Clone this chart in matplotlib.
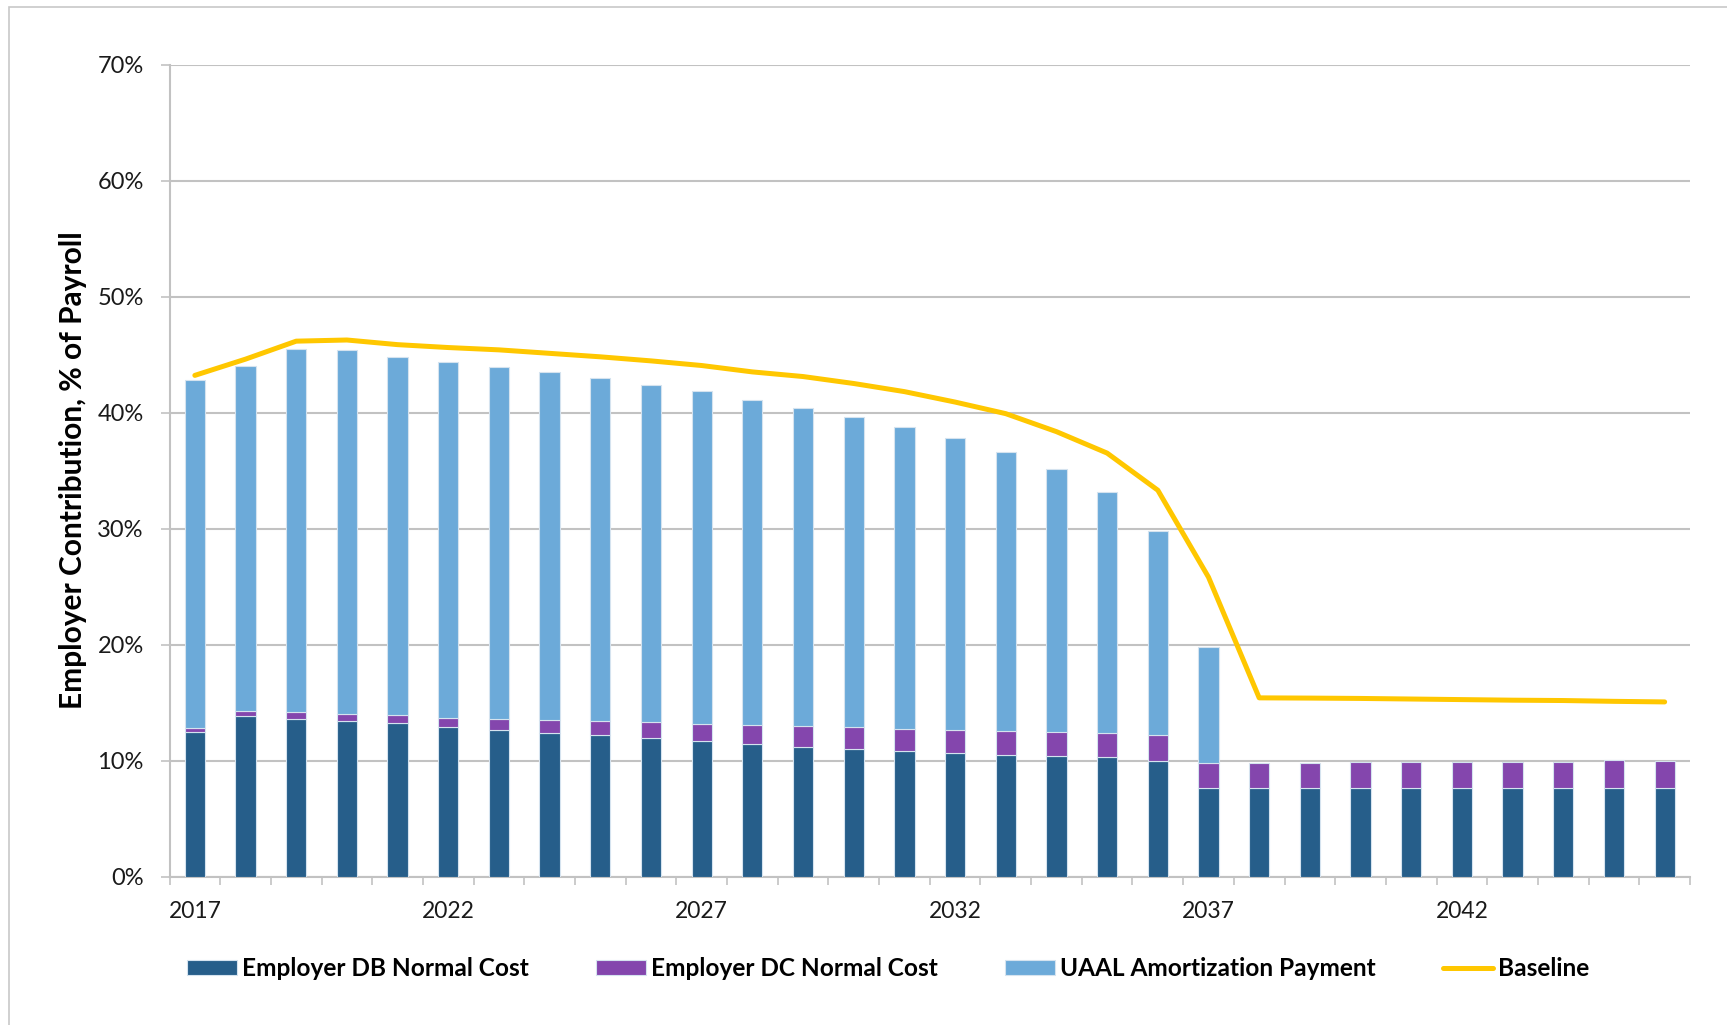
import matplotlib
matplotlib.use("Agg")
import matplotlib.pyplot as plt
from matplotlib.patches import Patch, Rectangle
from matplotlib.lines import Line2D
import numpy as np

plt.rcParams['font.family'] = ['Lato', 'DejaVu Sans']

# Plan years and contribution components (% of payroll)
years = list(range(2017, 2047))
db_normal = [12.5, 13.8, 13.6, 13.4, 13.2, 12.85, 12.65, 12.4, 12.2, 11.95,
             11.65, 11.4, 11.2, 10.95, 10.85, 10.65, 10.5, 10.4, 10.3, 10.0,
             7.6, 7.6, 7.6, 7.6, 7.6, 7.6, 7.6, 7.6, 7.6, 7.65]
dc_normal = [0.3, 0.45, 0.55, 0.65, 0.75, 0.85, 0.95, 1.1, 1.2, 1.35,
             1.5, 1.65, 1.75, 1.9, 1.9, 2.0, 2.05, 2.1, 2.1, 2.2,
             2.2, 2.2, 2.2, 2.3, 2.3, 2.3, 2.3, 2.3, 2.4, 2.35]
uaal_amort = [30.0, 29.8, 31.3, 31.3, 30.85, 30.65, 30.3, 30.0, 29.55, 29.1,
              28.7, 28.0, 27.45, 26.8, 26.0, 25.15, 24.05, 22.65, 20.75, 17.6,
              10.0, 0, 0, 0, 0, 0, 0, 0, 0, 0]
baseline = [43.2, 44.6, 46.15, 46.25, 45.85, 45.6, 45.4, 45.1, 44.8, 44.45,
            44.05, 43.5, 43.1, 42.5, 41.8, 40.9, 39.9, 38.35, 36.5, 33.3,
            25.8, 15.4, 15.38, 15.35, 15.3, 15.25, 15.2, 15.17, 15.1, 15.05]
series_labels = ["Employer DB Normal Cost", "Employer DC Normal Cost",
                 "UAAL Amortization Payment", "Baseline"]

c_db = "#265E8A"
c_dc = "#8446AD"
c_uaal = "#6CAAD9"
c_base = "#FFC700"
grid_c = "#C2C2C2"

W, H = 1727, 1025
fig = plt.figure(figsize=(W / 100, H / 100), dpi=100)
ax = fig.add_axes([169.5 / W, 1 - 876.5 / H, (1690 - 169.5) / W, (876.5 - 64.5) / H])

x = np.arange(len(years))
db = np.array(db_normal)
dc = np.array(dc_normal)
ua = np.array(uaal_amort)
bw = 0.40
edge = dict(edgecolor="#D5E3EF", linewidth=0.8)
ax.bar(x, db, bw, color=c_db, zorder=3, **edge)
ax.bar(x, dc, bw, bottom=db, color=c_dc, zorder=3, **edge)
mask = ua > 0
ax.bar(x[mask], ua[mask], bw, bottom=(db + dc)[mask], color=c_uaal, zorder=3, **edge)
ax.plot(x, baseline, color=c_base, lw=3.6, zorder=4, solid_capstyle="round",
        solid_joinstyle="round")

ax.set_xlim(-0.5, len(years) - 0.5)
ax.set_ylim(0, 70)
ax.set_yticks(np.arange(0, 71, 10))
ax.set_yticklabels([f"{v}%" for v in range(0, 71, 10)])
ax.yaxis.grid(True, color=grid_c, lw=1.5, zorder=0)
ax.set_axisbelow(True)

ax.set_xticks(x[::5])
ax.set_xticklabels([str(years[i]) for i in range(0, len(years), 5)])
ax.set_xticks(np.arange(-0.5, len(years), 1.0), minor=True)
ax.tick_params(axis="x", which="major", length=0, pad=18, labelsize=16.5, labelcolor="#1A1A1A")
ax.tick_params(axis="x", which="minor", length=6, width=1.2, color=grid_c, direction="out")
ax.tick_params(axis="y", length=6.5, width=1.2, color=grid_c, pad=12,
               labelsize=17, labelcolor="#1A1A1A")

for s in ("top", "right"):
    ax.spines[s].set_visible(False)
for s in ("left", "bottom"):
    ax.spines[s].set_color(grid_c)
    ax.spines[s].set_linewidth(1.5)

ax.set_ylabel("Employer Contribution, % of Payroll", fontsize=21.5, fontweight="bold",
              color="black")
ax.yaxis.label.set_va("center")
ax.yaxis.set_label_coords((73 - 169.5) / (1690 - 169.5), 0.5)

handles = [Patch(facecolor=c_db, edgecolor="#D5E3EF", lw=0.8),
           Patch(facecolor=c_dc, edgecolor="#D5E3EF", lw=0.8),
           Patch(facecolor=c_uaal, edgecolor="#D5E3EF", lw=0.8),
           Line2D([0], [0], color=c_base, lw=3.6, solid_capstyle="round")]
leg = fig.legend(handles, series_labels, loc="center left", ncol=4,
                 bbox_to_anchor=(187 / W, 1 - 969 / H), frameon=False,
                 prop=dict(weight="bold", size=17.6), handlelength=2.05,
                 handleheight=0.55, handletextpad=0.2, columnspacing=2.75,
                 borderpad=0, borderaxespad=0)

# Outer chart border
fig.patches.append(Rectangle((9 / W, -0.1), 1.2, 1 - 7 / H + 0.1,
                             transform=fig.transFigure, fill=False,
                             edgecolor="#C8C8C8", lw=1.2))

fig.savefig("out.png", dpi=100)
